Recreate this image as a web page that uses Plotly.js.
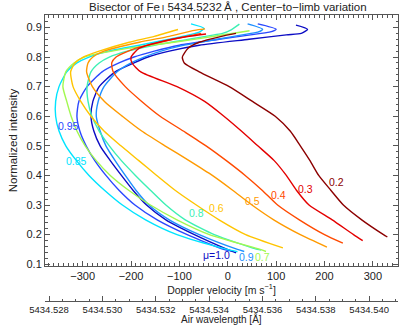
<!DOCTYPE html>
<html>
<head>
<meta charset="utf-8">
<script src="https://cdn.plot.ly/plotly-3.0.1.min.js"></script>
<style>
  body { margin: 0; background: #fff; }
  #plot { width: 415px; height: 326px; }
</style>
</head>
<body>
<div id="plot"></div>
<script>
// one bisector per mu value (centre-to-limb position)
var mu = ["1.0", "0.95", "0.9", "0.85", "0.8", "0.7", "0.6", "0.5", "0.4", "0.3", "0.2"];
var colors = ["#0c0cc4", "#2a48ff", "#1e90ff", "#00e4ff", "#3cf0b4", "#a2f850", "#ffc400", "#ff9a00", "#ff4a00", "#e40000", "#8c0000"];

// normalized intensity (y) and Doppler velocity in m/s (x)
var i_100 = [0.138, 0.15, 0.2, 0.25, 0.3, 0.35, 0.4, 0.45, 0.5, 0.55, 0.6, 0.65, 0.7, 0.75, 0.78, 0.8, 0.82, 0.84, 0.86, 0.875, 0.88, 0.894, 0.908];
var v_100 = [17, -1, -69, -128, -168, -196, -220, -243, -264, -277, -283, -279, -266, -233, -194, -165, -121, -59, 44, 121, 152, 165, 141];

var i_095 = [0.145, 0.15, 0.2, 0.25, 0.3, 0.35, 0.4, 0.45, 0.5, 0.55, 0.6, 0.65, 0.7, 0.75, 0.78, 0.8, 0.82, 0.84, 0.86, 0.875, 0.884, 0.894, 0.912];
var v_095 = [7, -9, -84, -146, -192, -225, -252, -275, -293, -306, -312, -308, -291, -260, -225, -194, -152, -100, -18, 47, 86, 100, 62];

var i_090 = [0.143, 0.15, 0.2, 0.25, 0.3, 0.35, 0.4, 0.45, 0.5, 0.55, 0.6, 0.65, 0.7, 0.75, 0.78, 0.8, 0.82, 0.84, 0.86, 0.875, 0.884, 0.894, 0.912];
var v_090 = [34, 20, -59, -121, -163, -190, -212, -233, -252, -264, -272, -268, -256, -229, -200, -173, -138, -90, -22, 30, 62, 72, 41];

var i_085 = [0.142, 0.15, 0.2, 0.25, 0.3, 0.35, 0.4, 0.45, 0.5, 0.55, 0.6, 0.65, 0.7, 0.75, 0.78, 0.8, 0.82, 0.84, 0.86, 0.875, 0.884, 0.897, 0.912];
var v_085 = [20, -1, -105, -170, -218, -255, -287, -313, -335, -349, -356, -356, -349, -333, -312, -287, -246, -183, -121, -80, -59, -49, -76];

var i_080 = [0.148, 0.15, 0.2, 0.25, 0.3, 0.35, 0.4, 0.45, 0.5, 0.55, 0.6, 0.65, 0.7, 0.75, 0.78, 0.8, 0.82, 0.84, 0.86, 0.875, 0.88, 0.892, 0.911];
var v_080 = [69, 61, -28, -88, -128, -160, -191, -220, -245, -266, -281, -289, -291, -283, -266, -245, -208, -152, -80, -28, -11, 7, 24];

var i_070 = [0.143, 0.15, 0.2, 0.25, 0.3, 0.35, 0.4, 0.45, 0.5, 0.55, 0.6, 0.65, 0.7, 0.75, 0.78, 0.8, 0.83, 0.85, 0.87, 0.889];
var v_070 = [79, 67, -38, -105, -160, -205, -243, -272, -295, -312, -324, -333, -341, -335, -318, -297, -204, -111, -28, 45];

var i_060 = [0.155, 0.2, 0.25, 0.3, 0.35, 0.4, 0.45, 0.5, 0.55, 0.6, 0.65, 0.7, 0.75, 0.78, 0.8, 0.82, 0.85, 0.87, 0.893];
var v_060 = [114, 37, -18, -65, -109, -147, -184, -221, -256, -283, -304, -320, -325, -316, -299, -266, -204, -152, -103];

var i_050 = [0.158, 0.2, 0.25, 0.3, 0.35, 0.4, 0.45, 0.5, 0.55, 0.6, 0.65, 0.7, 0.75, 0.78, 0.8, 0.82, 0.85, 0.87, 0.89, 0.895];
var v_050 = [205, 150, 95, 50, 10, -32, -80, -130, -178, -218, -255, -280, -292, -289, -279, -256, -183, -121, -69, -47];

var i_040 = [0.171, 0.2, 0.25, 0.3, 0.35, 0.4, 0.45, 0.5, 0.55, 0.6, 0.65, 0.7, 0.75, 0.78, 0.8, 0.83, 0.85, 0.87, 0.88];
var v_040 = [238, 200, 148, 103, 71, 36, -3, -45, -92, -140, -178, -212, -237, -240, -231, -190, -140, -85, -55];

var i_030 = [0.18, 0.2, 0.25, 0.3, 0.35, 0.4, 0.45, 0.5, 0.55, 0.6, 0.65, 0.7, 0.75, 0.78, 0.8, 0.83, 0.85, 0.87, 0.878];
var v_030 = [279, 260, 216, 168, 142, 121, 96, 62, 28, -8, -48, -105, -180, -198, -200, -183, -142, -80, -45];

var i_020 = [0.192, 0.2, 0.25, 0.3, 0.35, 0.4, 0.45, 0.5, 0.55, 0.6, 0.65, 0.7, 0.75, 0.78, 0.8, 0.83, 0.85, 0.87, 0.88];
var v_020 = [330, 322, 277, 239, 213, 188, 170, 150, 129, 98, 51, 3, -59, -90, -94, -82, -59, -13, 17];

var intens = [i_100, i_095, i_090, i_085, i_080, i_070, i_060, i_050, i_040, i_030, i_020];
var veloc = [v_100, v_095, v_090, v_085, v_080, v_070, v_060, v_050, v_040, v_030, v_020];

// where each mu label sits (velocity, intensity)
var labelText = ["\u03bc=1.0", "0.95", "0.9", "0.85", "0.8", "0.7", "0.6", "0.5", "0.4", "0.3", "0.2"];
var labelV = [-24, -329, 38, -312, -65, 71, -24, 51, 105, 161, 225];
var labelI = [0.131, 0.567, 0.123, 0.449, 0.273, 0.123, 0.29, 0.314, 0.334, 0.354, 0.378];

// velocity axis range and the matching air wavelength axis
var velRange = [-378, 352];
var LAM0 = 5434.5347;   // air wavelength at zero Doppler velocity
var C = 299792458;
var wlRange = velRange.map(function (v) { return LAM0 * (1 + v / C); });

var font = "Liberation Sans, Arial, Helvetica, sans-serif";
var axCol = "#555";

var data = [];
for (var k = 0; k < mu.length; k++) {
  data.push({
    x: veloc[k],
    y: intens[k],
    mode: "lines",
    type: "scatter",
    name: "mu=" + mu[k],
    line: { color: colors[k], width: 1.4, shape: "spline", smoothing: 0.6 },
    hoverinfo: "skip"
  });
}
// empty trace so the wavelength axis gets drawn
data.push({ x: [], y: [], xaxis: "x2", yaxis: "y", mode: "lines", showlegend: false, hoverinfo: "skip" });

var annotations = labelText.map(function (t, k) {
  return {
    x: labelV[k], y: labelI[k], xref: "x", yref: "y",
    text: t, showarrow: false,
    font: { family: font, size: 10.5, color: colors[k] }
  };
});
// title of the wavelength axis, kept clear of its tick labels
annotations.push({
  x: 0.5, y: -0.062, xref: "paper", yref: "paper",
  xanchor: "center", yanchor: "middle",
  text: "Air wavelength [\u00c5]", showarrow: false,
  font: { family: font, size: 10, color: "#222" }
});

var layout = {
  width: 415,
  height: 326,
  margin: { l: 45, r: 17, t: 15, b: 25 },
  paper_bgcolor: "#fff",
  plot_bgcolor: "#fff",
  showlegend: false,
  font: { family: font, size: 11, color: "#222" },
  title: {
    text: "Bisector of Fe<span style='font-size:9px'>\u2009I</span> 5434.5232\u2009\u00c5 , Center\u2212to\u2212limb variation",
    font: { family: font, size: 11.5, color: "#222" },
    x: 0.549, xref: "container", xanchor: "center",
    y: 0.979, yref: "container", yanchor: "middle"
  },
  xaxis: {
    domain: [0, 1],
    anchor: "y",
    range: velRange,
    showline: true, linecolor: axCol, linewidth: 1, mirror: "ticks",
    ticks: "inside", ticklen: 5, tickcolor: axCol,
    tick0: 0, dtick: 100,
    minor: { dtick: 10, ticks: "inside", ticklen: 2.5, tickcolor: axCol },
    showgrid: false, zeroline: false,
    title: { text: "Doppler velocity [m s<sup>\u22121</sup>]", standoff: 3, font: { size: 10.5 } }
  },
  yaxis: {
    domain: [0.1224, 1],
    range: [0.094, 0.942],
    showline: true, linecolor: axCol, linewidth: 1, mirror: "ticks",
    ticks: "inside", ticklen: 5, tickcolor: axCol,
    tick0: 0.1, dtick: 0.1, tickformat: ".1f",
    minor: { dtick: 0.02, ticks: "inside", ticklen: 2.5, tickcolor: axCol },
    showgrid: false, zeroline: false,
    title: { text: "Normalized intensity", standoff: 6, font: { size: 11.5 } }
  },
  xaxis2: {
    overlaying: "x",
    anchor: "free",
    position: 0,
    side: "bottom",
    range: wlRange,
    showline: true, linecolor: axCol, linewidth: 1,
    ticks: "inside", ticklen: 5, tickcolor: axCol,
    tick0: 5434.528, dtick: 0.002, tickformat: ".3f",
    tickfont: { size: 9.5 },
    ticklabelstandoff: 0,
    minor: { dtick: 0.0005, ticks: "inside", ticklen: 2.5, tickcolor: axCol },
    showgrid: false, zeroline: false
  },
  annotations: annotations
};

Plotly.newPlot("plot", data, layout, { staticPlot: true, displayModeBar: false });
</script>
</body>
</html>
